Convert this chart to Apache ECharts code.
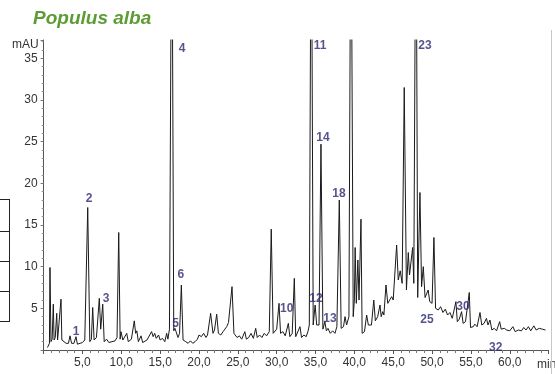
<!DOCTYPE html>
<html>
<head>
<meta charset="utf-8">
<script src="https://cdn.jsdelivr.net/npm/echarts@6/dist/echarts.min.js"></script>
<style>
html,body{margin:0;padding:0;background:#fff;}
#chart{width:555px;height:374px;}
</style>
</head>
<body>
<div id="chart"></div>
<script>
// Retention time (min) of each trace point
var times = [
  0.5,0.75,0.82,0.95,1.1,1.25,1.35,1.5,1.69,1.8,2.0,2.24,2.35,2.6,2.9,3.2,3.4,3.6,3.9,4.17,4.35,4.7,5.0,5.3,
  5.68,5.95,6.15,6.32,6.5,6.8,7.17,7.35,7.61,7.8,8.1,8.4,8.8,9.2,9.45,9.67,9.85,9.96,10.2,10.7,10.9,11.3,
  11.67,11.85,12.0,12.2,12.54,12.75,13.0,13.3,13.9,14.1,14.3,14.5,14.8,15.0,15.3,15.6,15.84,16.0,16.2,
  16.5,16.75,16.9,17.05,17.3,17.5,17.73,17.95,18.3,18.6,18.9,19.2,19.5,19.8,20.0,20.3,20.6,20.9,21.1,
  21.5,21.8,22.0,22.28,22.5,22.8,23.1,23.57,23.8,24.25,24.5,24.9,25.2,25.5,25.9,26.1,26.4,26.7,27.0,27.3,
  27.5,27.8,28.1,28.4,28.7,29.05,29.3,29.55,29.8,30.0,30.3,30.5,30.8,31.1,31.5,31.7,32.0,32.27,32.45,33.0,
  33.2,33.5,33.8,34.05,34.2,34.45,34.7,34.95,35.15,35.45,35.7,35.95,36.2,36.4,36.6,36.9,37.2,37.5,37.75,
  38.06,38.3,38.6,38.8,39.0,39.3,39.56,39.85,40.0,40.1,40.25,40.45,40.6,40.85,41.0,41.3,41.58,41.8,42.2,
  42.5,42.7,43.0,43.3,43.45,43.65,43.8,44.07,44.3,44.8,45.0,45.44,45.65,45.9,46.15,46.42,46.7,46.94,47.1,
  47.5,47.65,47.93,48.15,48.44,48.65,48.87,49.1,49.5,49.7,50.0,50.24,50.45,50.8,51.1,51.4,51.7,52.0,52.3,
  52.6,53.07,53.25,53.5,53.8,54.0,54.3,54.79,54.95,55.3,55.5,55.8,56.17,56.4,56.7,57.0,57.2,57.45,57.7,
  58.0,58.3,58.7,58.9,59.3,59.6,60.0,60.4,60.7,61.1,61.5,61.8,62.1,62.4,62.7,63.1,63.4,63.8,64.2,64.6
];
// Absorbance (mAU) at each time point (peaks above 37 run off the top of the plot)
var absorbance = [
  0.3,0.8,9.9,1.0,1.3,5.5,1.2,1.5,4.4,1.2,1.4,6.1,1.2,1.0,0.8,0.8,1.7,0.8,0.8,1.6,0.7,0.8,0.9,1.2,
  17.1,1.0,1.3,5.1,1.2,1.5,6.2,2.5,5.5,1.0,1.3,0.9,1.0,1.1,1.5,14.1,1.3,2.2,1.2,2.0,1.0,1.3,
  3.5,2.0,2.3,1.0,1.7,0.9,1.0,1.2,2.2,1.6,2.0,1.4,1.8,1.2,1.4,1.0,2.0,1.3,2.5,
  60,2.3,2.6,2.2,1.5,2.0,7.8,1.2,1.0,0.8,1.1,0.8,1.0,1.3,1.8,1.6,2.0,1.5,1.8,
  4.4,2.0,2.4,4.3,2.0,1.8,2.2,2.8,3.3,7.6,2.0,1.5,1.7,1.3,2.2,1.3,1.5,2.0,1.4,2.6,
  1.5,1.8,1.5,2.0,1.7,2.2,14.5,2.0,1.8,2.5,5.6,2.0,2.2,1.7,3.2,1.6,2.0,8.6,1.6,2.8,
  1.5,1.8,1.6,2.3,3.0,60,3.0,5.4,3.0,3.0,24.7,2.5,3.4,2.3,2.6,2.0,2.3,2.0,2.8,
  18.0,2.6,2.8,4.0,3.0,4.0,60,4.0,6.0,12.3,5.6,10.8,6.0,15.7,2.0,2.2,4.2,3.0,3.0,
  6.0,3.5,4.0,5.4,4.0,4.6,4.2,7.8,5.6,6.4,6.0,12.6,8.4,9.5,8.0,31.5,7.2,11.7,9.0,
  12.3,8.0,60,6.3,18.9,7.6,10.0,6.3,7.2,5.8,5.6,13.5,5.0,4.8,5.2,4.5,4.9,4.2,4.5,
  3.8,5.8,3.4,3.7,4.6,3.2,3.4,6.9,2.7,2.8,3.1,2.8,4.5,3.0,3.2,3.8,3.0,3.6,2.4,
  2.6,2.3,3.4,2.5,2.6,2.4,2.3,2.8,2.2,2.4,2.3,2.7,2.4,2.8,2.3,2.9,2.4,2.6,2.5,2.4
];
// Peak numbers and the spot (time, mAU) where each number is written
var peakNames = ['1','2','3','4','5','6','10','11','12','13','14','18','23','25','30','32'];
var peakLabelTimes = [4.17,5.84,8.03,17.81,17.0,17.68,31.3,35.58,35.06,36.86,35.96,38.02,49.08,49.34,53.98,58.2];
var peakLabelValues = [2.25,18.2,6.2,36.2,3.1,9.0,5.0,36.5,6.1,3.7,25.5,18.8,36.5,3.6,5.2,0.3];

var chart = echarts.init(document.getElementById('chart'));
var traceData = times.map(function(t,i){ return [t, absorbance[i]]; });
var labelData = peakNames.map(function(n,i){ return {name:n, value:[peakLabelTimes[i], peakLabelValues[i]]}; });

chart.setOption({
  animation:false,
  backgroundColor:'#fff',
  textStyle:{fontFamily:'Liberation Sans, Arial, sans-serif'},
  grid:{left:43.6, right:6.4, top:40, bottom:24, containLabel:false},
  xAxis:{
    type:'value', min:0, max:65, interval:5,
    axisLine:{lineStyle:{color:'#555', width:1}},
    axisTick:{length:4, lineStyle:{color:'#555'}},
    minorTick:{show:true, splitNumber:5, length:3, lineStyle:{color:'#777'}},
    splitLine:{show:false},
    axisLabel:{color:'#333', fontSize:12, margin:7, showMaxLabel:false,
      formatter:function(v){ return (v===0||v>60)?'':v.toFixed(1).replace('.',','); }}
  },
  yAxis:{
    type:'value', min:0, max:37.2, interval:5,
    axisLine:{show:true, lineStyle:{color:'#555', width:1}},
    axisTick:{show:true, length:3, lineStyle:{color:'#777'}},
    minorTick:{show:true, splitNumber:5, length:2, lineStyle:{color:'#999'}},
    splitLine:{show:false},
    axisLabel:{color:'#333', fontSize:12, margin:6, showMaxLabel:false,
      formatter:function(v){ return (v===0 || v%5!==0)?'':String(v); }}
  },
  series:[
    {type:'line', data:traceData, symbol:'none', clip:true,
     lineStyle:{color:'#1a1a1a', width:1}, z:3},
    {type:'scatter', data:labelData, symbolSize:0, clip:false, z:5,
     label:{show:true, position:'inside', formatter:'{b}', color:'#2b2870',
       fontWeight:'bold', fontSize:12, fontFamily:'Liberation Sans, Arial, sans-serif'}}
  ],
  graphic:[
    {type:'text', left:33, top:9, style:{text:'Populus alba', fill:'#5c9c35',
      font:'italic bold 19px "Liberation Sans", Arial, sans-serif'}},
    {type:'text', left:12, top:39, style:{text:'mAU', fill:'#333', font:'12px "Liberation Sans", Arial, sans-serif'}},
    {type:'text', left:537, top:359, style:{text:'min', fill:'#333', font:'12px "Liberation Sans", Arial, sans-serif'}},
    {type:'line', shape:{x1:9.5,y1:199,x2:9.5,y2:322}, style:{stroke:'#222', lineWidth:1}},
    {type:'line', shape:{x1:0,y1:199.5,x2:10,y2:199.5}, style:{stroke:'#222', lineWidth:1}},
    {type:'line', shape:{x1:0,y1:231.5,x2:10,y2:231.5}, style:{stroke:'#222', lineWidth:1}},
    {type:'line', shape:{x1:0,y1:261.5,x2:10,y2:261.5}, style:{stroke:'#222', lineWidth:1}},
    {type:'line', shape:{x1:0,y1:291.5,x2:10,y2:291.5}, style:{stroke:'#222', lineWidth:1}},
    {type:'line', shape:{x1:0,y1:321.5,x2:10,y2:321.5}, style:{stroke:'#222', lineWidth:1}},
    {type:'line', shape:{x1:551.5,y1:30,x2:551.5,y2:374}, style:{stroke:'#c8c8c8', lineWidth:1}}
  ]
});
</script>
</body>
</html>
